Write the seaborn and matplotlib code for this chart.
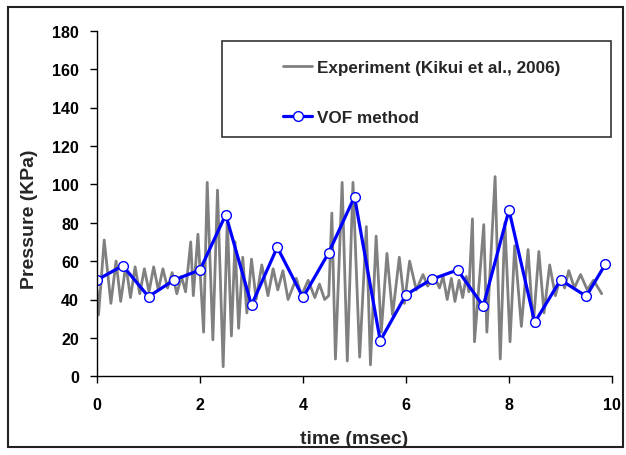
import matplotlib
matplotlib.use("Agg")
import matplotlib.pyplot as plt
import seaborn as sns
import pandas as pd
from matplotlib.patches import Rectangle

# Measured wall pressure (alternating peaks and troughs of the record)
exp_time = [
    0.00, 0.03, 0.14, 0.27, 0.37, 0.46, 0.56, 0.65, 0.74, 0.83, 0.92,
    1.01, 1.10, 1.19, 1.28, 1.37, 1.46, 1.55, 1.64, 1.72, 1.82, 1.87,
    1.96, 2.07, 2.14, 2.25, 2.34, 2.45, 2.53, 2.61, 2.68, 2.75, 2.83,
    2.91, 3.00, 3.09, 3.20, 3.32, 3.42, 3.51, 3.61, 3.71, 3.87, 3.97,
    4.10, 4.23, 4.32, 4.42, 4.50, 4.56, 4.63, 4.76, 4.86, 4.97, 5.10,
    5.23, 5.31, 5.42, 5.52, 5.63, 5.74, 5.87, 5.97, 6.07, 6.20, 6.33,
    6.42, 6.55, 6.65, 6.72, 6.80, 6.88, 6.95, 7.03, 7.10, 7.17, 7.22,
    7.29, 7.33, 7.51, 7.57, 7.73, 7.83, 7.92, 8.02, 8.11, 8.24, 8.37,
    8.47, 8.58, 8.68, 8.79, 8.90, 9.00, 9.08, 9.16, 9.27, 9.39, 9.52,
    9.64, 9.80,
]
exp_pressure = [
    45, 32, 71, 38, 60, 39, 58, 41, 57, 43, 56,
    44, 57, 45, 56, 46, 54, 43, 52, 44, 70, 42,
    74, 23, 101, 19, 97, 5, 82, 21, 70, 25, 62,
    33, 61, 40, 58, 42, 56, 45, 55, 40, 51, 42,
    50, 41, 48, 40, 42, 85, 9, 101, 8, 101, 10,
    78, 6, 73, 23, 64, 32, 62, 38, 60, 45, 53,
    47, 52, 46, 52, 40, 51, 39, 50, 41, 52, 44,
    82, 18, 79, 23, 104, 9, 80, 18, 68, 26, 66,
    26, 65, 33, 58, 42, 52, 46, 55, 46, 53, 45,
    50, 43,
]

# VOF simulation results
vof_time = [0.0, 0.5, 1.0, 1.5, 2.0, 2.5, 3.0, 3.5, 4.0, 4.5, 5.0,
            5.5, 6.0, 6.5, 7.0, 7.5, 8.0, 8.5, 9.0, 9.5, 9.87]
vof_pressure = [50.2, 57.6, 41.5, 50.2, 55.4, 84.2, 37.1, 67.2, 41.1, 64.4, 93.5,
                18.5, 42.5, 50.5, 55.4, 36.6, 86.6, 28.1, 50.2, 41.7, 58.3]

x_ticks = [0, 2, 4, 6, 8, 10]
y_ticks = [0, 20, 40, 60, 80, 100, 120, 140, 160, 180]

exp_df = pd.DataFrame({"time": exp_time, "pressure": exp_pressure})
vof_df = pd.DataFrame({"time": vof_time, "pressure": vof_pressure})

sns.set_style("white")
plt.rcParams["font.family"] = ["Liberation Sans", "DejaVu Sans"]
plt.rcParams["font.weight"] = "bold"

W, H = 626, 456
fig = plt.figure(figsize=(W / 100, H / 100), dpi=100)
ax = fig.add_axes([97 / W, 1 - 377.3 / H, (612 - 97) / W, (377.3 - 31.7) / H])

sns.lineplot(data=exp_df, x="time", y="pressure", ax=ax, color="#808080",
             linewidth=2.0, estimator=None, sort=False,
             label="Experiment (Kikui et al., 2006)")
sns.lineplot(data=vof_df, x="time", y="pressure", ax=ax, color="#0000FF",
             linewidth=2.3, estimator=None, sort=False, marker="o",
             markersize=7, markerfacecolor="white", markeredgecolor="#0000FF",
             markeredgewidth=1.0, label="VOF method")

ax.set_xlim(0, 10)
ax.set_ylim(0, 180)
ax.set_xticks(x_ticks)
ax.set_yticks(y_ticks)
ax.set_xticklabels([str(t) for t in x_ticks], fontsize=11.5, fontweight="bold")
ax.set_yticklabels([str(t) for t in y_ticks], fontsize=11.5, fontweight="bold")
ax.tick_params(axis="both", direction="out", length=5, width=1, color="black",
               labelcolor="black", left=True, bottom=True)
ax.tick_params(axis="y", pad=8)
ax.tick_params(axis="x", pad=10)

for side in ["top", "right"]:
    ax.spines[side].set_visible(False)
for side in ["left", "bottom"]:
    ax.spines[side].set_color("black")
    ax.spines[side].set_linewidth(1.0)

ax.set_xlabel("time (msec)", fontsize=14, fontweight="bold", labelpad=13)
ax.set_ylabel("Pressure (KPa)", fontsize=14, fontweight="bold")
ax.yaxis.set_label_coords(-0.114, 0.458)

leg = ax.legend(loc="upper left", bbox_to_anchor=(283 / W, 1 - 61 / H),
                bbox_transform=fig.transFigure, frameon=False,
                prop={"size": 12.3, "weight": "bold"}, handlelength=1.7,
                handletextpad=0.3, labelspacing=2.05, borderpad=0,
                borderaxespad=0)

# legend frame
fig.add_artist(Rectangle((222 / W, 1 - 138 / H), (611 - 222) / W, (138 - 42) / H,
                         transform=fig.transFigure, fill=False,
                         edgecolor="#333333", linewidth=1.2))
# outer chart border
fig.add_artist(Rectangle((8 / W, 1 - 448 / H), (622.5 - 8) / W, (448 - 8) / H,
                         transform=fig.transFigure, fill=False,
                         edgecolor="#222222", linewidth=1.5))

fig.savefig("out.png", dpi=100, facecolor="white")
